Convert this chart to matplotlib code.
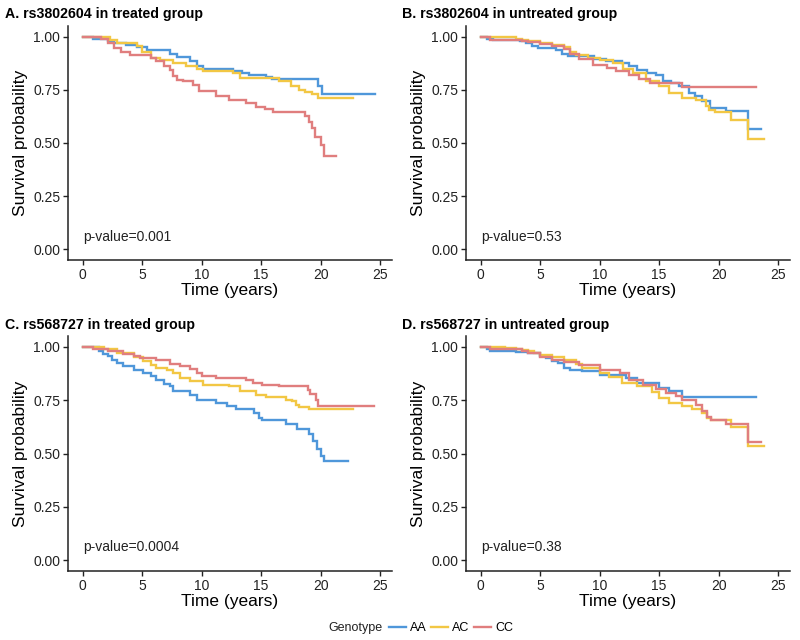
import matplotlib
matplotlib.use("Agg")
import matplotlib.pyplot as plt
from matplotlib.lines import Line2D

plt.rcParams['font.family'] = ['Liberation Sans', 'DejaVu Sans']

genotypes = ["AA", "AC", "CC"]
colors = {"AA": "#4F97DA", "AC": "#F2C744", "CC": "#E07E7E"}

panel_titles = ["A. rs3802604 in treated group", "B. rs3802604 in untreated group",
                "C. rs568727 in treated group", "D. rs568727 in untreated group"]
pvalues = ["p-value=0.001", "p-value=0.53", "p-value=0.0004", "p-value=0.38"]
xticks = [0, 5, 10, 15, 20, 25]
yticks = [0.00, 0.25, 0.50, 0.75, 1.00]
ytick_labels = ["0.00", "0.25", "0.50", "0.75", "1.00"]

# Panel A
A_AA_t = [0, 0.9, 2.1, 2.6, 3.6, 4.6, 5.4, 7.3, 7.9, 9.0, 9.6, 10.1, 12.6, 13.4, 14.0, 15.4, 15.9, 19.8, 20.1, 24.6]
A_AA_s = [1.0, 0.99, 0.978, 0.97, 0.96, 0.951, 0.936, 0.92, 0.905, 0.884, 0.864, 0.848, 0.837, 0.83, 0.82, 0.81, 0.80, 0.77, 0.73, 0.73]
A_AC_t = [0, 2.3, 2.9, 4.6, 5.0, 5.7, 6.5, 7.6, 8.7, 9.6, 10.1, 12.6, 13.2, 16.5, 17.5, 18.2, 18.7, 19.3, 19.8, 22.7]
A_AC_s = [1.0, 0.985, 0.97, 0.955, 0.93, 0.90, 0.89, 0.876, 0.86, 0.848, 0.837, 0.83, 0.805, 0.79, 0.77, 0.75, 0.74, 0.73, 0.71, 0.71]
A_CC_t = [0, 1.5, 2.1, 2.6, 3.2, 4.0, 5.7, 6.2, 6.8, 7.3, 7.6, 7.9, 8.4, 9.3, 9.8, 11.2, 12.3, 13.7, 14.6, 15.3, 16.0, 18.7, 19.0, 19.3, 19.5, 20.0, 20.3, 21.3]
A_CC_s = [1.0, 0.99, 0.97, 0.946, 0.93, 0.915, 0.90, 0.884, 0.86, 0.845, 0.814, 0.798, 0.79, 0.775, 0.743, 0.72, 0.70, 0.69, 0.67, 0.66, 0.645, 0.625, 0.60, 0.57, 0.53, 0.49, 0.44, 0.44]

# Panel B
B_AA_t = [0, 0.5, 1.0, 3.3, 3.8, 4.3, 4.8, 6.3, 6.8, 7.3, 9.5, 10.5, 11.9, 12.5, 13.1, 14.0, 14.7, 15.3, 16.0, 16.7, 17.5, 18.0, 18.6, 19.3, 20.6, 22.5, 23.6]
B_AA_s = [1.0, 0.99, 0.985, 0.98, 0.97, 0.955, 0.945, 0.935, 0.92, 0.91, 0.895, 0.885, 0.876, 0.86, 0.845, 0.83, 0.82, 0.79, 0.78, 0.767, 0.735, 0.72, 0.696, 0.665, 0.649, 0.567, 0.567]
B_AC_t = [0, 3.0, 3.5, 4.0, 5.0, 6.0, 7.0, 7.5, 8.0, 9.0, 10.0, 11.1, 12.0, 12.8, 13.9, 15.0, 15.8, 16.9, 18.1, 18.9, 19.2, 19.7, 21.0, 22.5, 23.8]
B_AC_s = [1.0, 0.99, 0.985, 0.98, 0.97, 0.96, 0.95, 0.93, 0.915, 0.90, 0.89, 0.876, 0.85, 0.83, 0.79, 0.767, 0.735, 0.712, 0.70, 0.673, 0.657, 0.645, 0.61, 0.52, 0.52]
B_CC_t = [0, 0.8, 3.5, 4.0, 5.0, 6.0, 7.0, 7.5, 8.3, 9.4, 10.6, 11.4, 12.5, 13.3, 14.2, 15.6, 16.9, 23.1]
B_CC_s = [1.0, 0.985, 0.98, 0.975, 0.965, 0.955, 0.94, 0.92, 0.895, 0.868, 0.853, 0.837, 0.822, 0.80, 0.784, 0.78, 0.762, 0.762]

# Panel C
C_AA_t = [0, 1.4, 1.7, 2.1, 2.5, 2.9, 3.4, 4.3, 5.1, 5.7, 6.2, 6.8, 7.3, 7.6, 9.0, 9.6, 11.2, 12.1, 12.9, 14.4, 14.8, 15.1, 17.1, 18.0, 19.0, 19.4, 19.7, 20.0, 20.3, 22.3]
C_AA_s = [1.0, 0.978, 0.965, 0.955, 0.94, 0.924, 0.911, 0.893, 0.877, 0.861, 0.843, 0.827, 0.815, 0.791, 0.776, 0.752, 0.737, 0.721, 0.706, 0.69, 0.667, 0.656, 0.64, 0.615, 0.589, 0.558, 0.52, 0.49, 0.465, 0.465]
C_AC_t = [0, 1.8, 2.9, 4.3, 5.1, 5.7, 6.2, 7.1, 7.6, 8.2, 9.0, 10.1, 12.3, 13.2, 14.6, 15.4, 17.1, 17.6, 17.9, 18.2, 19.0, 22.7]
C_AC_s = [1.0, 0.989, 0.97, 0.953, 0.931, 0.916, 0.90, 0.893, 0.877, 0.854, 0.838, 0.822, 0.814, 0.791, 0.776, 0.765, 0.752, 0.745, 0.729, 0.72, 0.706, 0.706]
C_CC_t = [0, 0.9, 2.1, 3.4, 4.3, 4.8, 6.2, 7.3, 8.2, 9.0, 9.6, 10.0, 11.2, 13.7, 14.3, 15.1, 16.5, 18.9, 19.1, 19.6, 19.8, 24.5]
C_CC_s = [1.0, 0.99, 0.978, 0.967, 0.958, 0.947, 0.937, 0.92, 0.911, 0.895, 0.877, 0.861, 0.853, 0.846, 0.83, 0.822, 0.818, 0.799, 0.78, 0.752, 0.721, 0.721]

# Panel D
D_AA_t = [0, 0.5, 0.8, 3.0, 4.0, 5.0, 5.5, 6.0, 6.5, 7.0, 7.5, 8.5, 10.0, 12.2, 13.1, 15.0, 15.8, 16.9, 23.1]
D_AA_s = [1.0, 0.99, 0.98, 0.975, 0.97, 0.955, 0.945, 0.935, 0.925, 0.90, 0.89, 0.885, 0.869, 0.854, 0.83, 0.807, 0.791, 0.765, 0.765]
D_AC_t = [0, 2.0, 3.0, 3.5, 4.0, 4.5, 5.0, 6.0, 7.0, 8.0, 8.5, 10.0, 10.8, 11.9, 13.1, 14.4, 15.0, 15.8, 16.9, 17.8, 18.6, 19.0, 19.4, 21.0, 22.5, 23.8]
D_AC_s = [1.0, 0.995, 0.99, 0.985, 0.98, 0.97, 0.96, 0.95, 0.94, 0.92, 0.90, 0.878, 0.858, 0.83, 0.815, 0.79, 0.76, 0.737, 0.721, 0.706, 0.69, 0.667, 0.655, 0.625, 0.537, 0.537]
D_CC_t = [0, 0.8, 3.5, 4.0, 5.0, 6.0, 7.0, 8.3, 10.0, 11.7, 12.5, 13.6, 14.7, 15.6, 16.4, 16.9, 18.1, 18.6, 19.0, 19.4, 20.6, 22.5, 23.6]
D_CC_s = [1.0, 0.99, 0.98, 0.97, 0.95, 0.94, 0.93, 0.916, 0.893, 0.877, 0.846, 0.822, 0.80, 0.784, 0.768, 0.752, 0.729, 0.698, 0.671, 0.655, 0.636, 0.553, 0.553]

panels = [
    {"AA": (A_AA_t, A_AA_s), "AC": (A_AC_t, A_AC_s), "CC": (A_CC_t, A_CC_s)},
    {"AA": (B_AA_t, B_AA_s), "AC": (B_AC_t, B_AC_s), "CC": (B_CC_t, B_CC_s)},
    {"AA": (C_AA_t, C_AA_s), "AC": (C_AC_t, C_AC_s), "CC": (C_CC_t, C_CC_s)},
    {"AA": (D_AA_t, D_AA_s), "AC": (D_AC_t, D_AC_s), "CC": (D_CC_t, D_CC_s)},
]

W, H = 800, 640
fig = plt.figure(figsize=(8, 6.4), dpi=100)

# axes boxes in pixels: (left, top, right, bottom)
boxes = [(68, 26, 392, 260), (466, 26, 790, 260), (68, 336, 392, 571), (466, 336, 790, 571)]
title_pos = [(5, 14), (402, 14), (5, 325), (402, 325)]

for i, (box, data) in enumerate(zip(boxes, panels)):
    l, t, r, b = box
    ax = fig.add_axes([l / W, 1 - b / H, (r - l) / W, (b - t) / H])
    for g in genotypes:
        tt, ss = data[g]
        ax.step(tt, ss, where='post', color=colors[g], linewidth=1.7, solid_joinstyle='miter')
    ax.set_xlim(-1.24, 26.0)
    ax.set_ylim(-0.05, 1.05)
    ax.set_xticks(xticks)
    ax.set_yticks(yticks)
    ax.set_yticklabels(ytick_labels)
    for s in ['top', 'right']:
        ax.spines[s].set_visible(False)
    for s in ['left', 'bottom']:
        ax.spines[s].set_linewidth(1.1)
        ax.spines[s].set_color('#222222')
    ax.tick_params(axis='both', labelsize=10, length=3.5, width=1.0, color='#222222',
                   labelcolor='#222222', pad=2)
    ax.set_xlabel("Time (years)", fontsize=12.5, labelpad=1)
    ax.set_ylabel("Survival probability", fontsize=12.5, labelpad=4)
    ax.text(0, 0.06, pvalues[i], fontsize=10, ha='left', va='center', color='#222222')
    tx, ty = title_pos[i]
    fig.text(tx / W, 1 - ty / H, panel_titles[i], fontsize=10.2, fontweight='bold',
             ha='left', va='center')

# legend
fig.text(328 / W, 1 - 628 / H, "Genotype", fontsize=9, ha='left', va='center', color='#222222')
handles = [Line2D([0], [0], color=colors[g], linewidth=1.7) for g in genotypes]
fig.legend(handles, genotypes, ncol=3, loc='center left', bbox_to_anchor=(389 / W, 1 - 628 / H),
           frameon=False, fontsize=9, handlelength=1.35, handletextpad=0.3, columnspacing=0.4,
           borderpad=0, borderaxespad=0)

fig.savefig("out.png", dpi=100)
